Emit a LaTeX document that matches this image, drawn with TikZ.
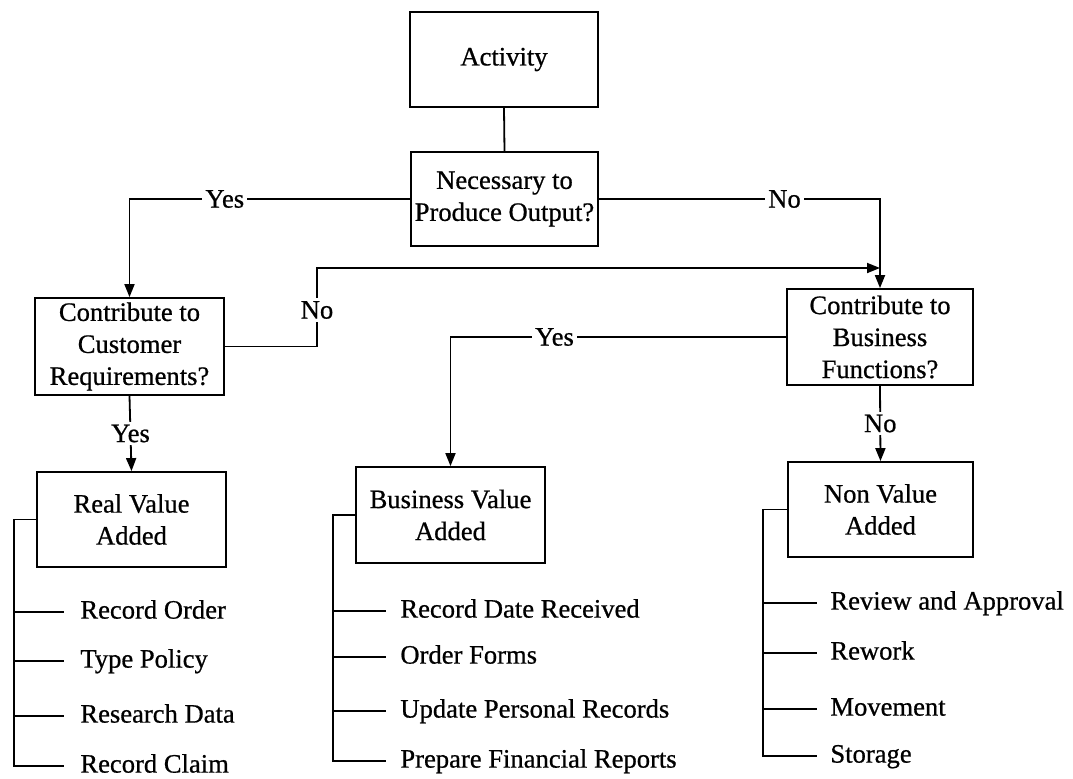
\documentclass[tikz,border=0pt]{standalone}
\usepackage{fontspec}
\setmainfont{Liberation Serif}[FakeBold=0.7]
\usetikzlibrary{arrows.meta}
\begin{document}
\begin{tikzpicture}[x=0.5pt,y=-0.5pt,
  every node/.style={font=\fontsize{13.3}{16}\selectfont},
  box/.style={draw,line width=0.9pt,align=center,inner sep=2pt},
  lbl/.style={fill=white,inner sep=1.5pt},
  item/.style={anchor=west,inner sep=0pt,text height=0.66em,text depth=0pt},
  conn/.style={line width=0.9pt},
  arr/.style={conn,-{Triangle[length=6.5pt,width=5pt]}}]
\useasboundingbox (0,0) rectangle (1073,778);
% boxes
\node[box,minimum width=94pt,minimum height=47.5pt] (act) at (504,59.5) {Activity};
\node[box,minimum width=93.5pt,minimum height=47pt] (nec) at (504.5,199) {Necessary to\\Produce Output?};
\node[box,minimum width=94.5pt,minimum height=48.5pt] (cust) at (129.5,346.5) {Contribute to\\Customer\\Requirements?};
\node[box,minimum width=93pt,minimum height=48pt] (bf) at (880,337) {Contribute to\\Business\\Functions?};
\node[box,minimum width=94.5pt,minimum height=47.5pt] (rva) at (131.5,519.5) {Real Value\\Added};
\node[box,minimum width=94.5pt,minimum height=48pt] (bva) at (450.5,515) {Business Value\\Added};
\node[box,minimum width=92.5pt,minimum height=47.5pt] (nva) at (880.5,509.5) {Non Value\\Added};
% main connectors
\draw[conn] (act.south) -- (nec.north);
\draw[arr] (nec.west) -| node[lbl,pos=0.33] {Yes} (cust.north);
\draw[arr] (nec.east) -| node[lbl,pos=0.33] {No} (bf.north);
\coordinate (j) at (880,268);
\coordinate (c1) at (317,268);
\draw[arr] (cust.east) -| (c1) -- (j);
\node[lbl] (n1) at (317,310) {No};
\draw[arr] (bf.west) -| node[lbl,pos=0.345] {Yes} (bva.north);
\draw[arr] (bf.south) -- node[lbl] {No} (nva.north);
\draw[arr] (cust.south) -- node[lbl] {Yes} (rva.north);
% real value added list
\node[item] (r1) at (80,612) {Record Order};
\node[item] (r2) at (80,661) {Type Policy};
\node[item] (r3) at (80,716) {Research Data};
\node[item] (r4) at (80,766) {Record Claim};
\draw[conn] (rva.west) -- (14,519.5) -- (14,766) -- ([xshift=-8pt]r4.west);
\foreach \n/\y in {r1/612,r2/661,r3/716} \draw[conn] (14,\y) -- ([xshift=-8pt]\n.west);
% business value added list
\node[item] (b1) at (400,611) {Record Date Received};
\node[item] (b2) at (400,657) {Order Forms};
\node[item] (b3) at (400,711) {Update Personal Records};
\node[item] (b4) at (400,761) {Prepare Financial Reports};
\draw[conn] (bva.west) -- (333,515) -- (333,761) -- ([xshift=-7pt]b4.west);
\foreach \n/\y in {b1/611,b2/657,b3/711} \draw[conn] (333,\y) -- ([xshift=-7pt]\n.west);
% non value added list
\node[item] (v1) at (830,603) {Review and Approval};
\node[item] (v2) at (830,653) {Rework};
\node[item] (v3) at (830,709) {Movement};
\node[item] (v4) at (830,756) {Storage};
\draw[conn] (nva.west) -- (763,509.5) -- (763,756) -- ([xshift=-6.5pt]v4.west);
\foreach \n/\y in {v1/603,v2/653,v3/709} \draw[conn] (763,\y) -- ([xshift=-6.5pt]\n.west);
\end{tikzpicture}
\end{document}
